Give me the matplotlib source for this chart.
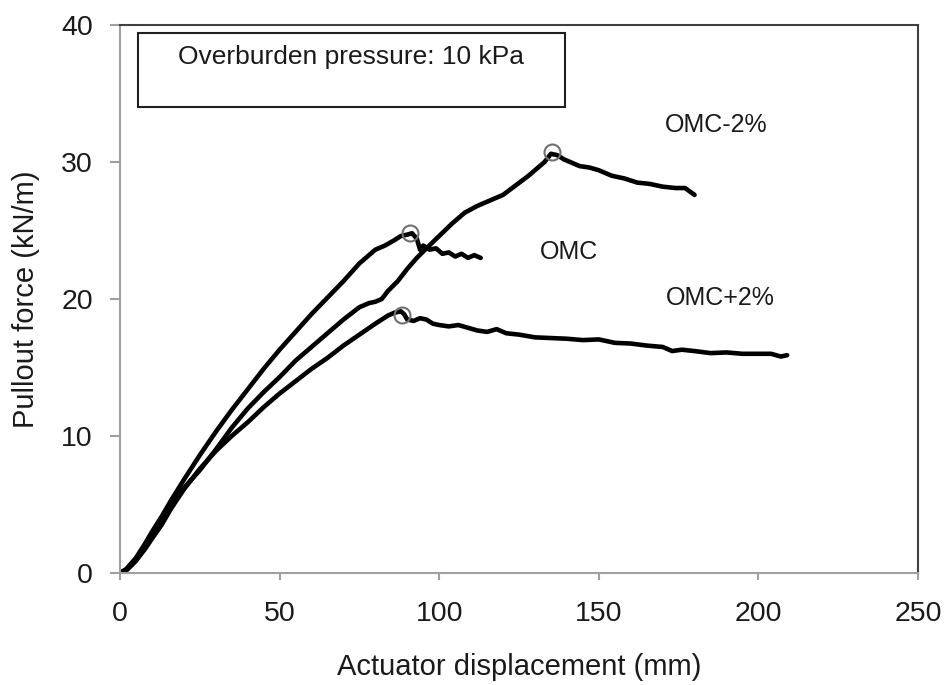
import matplotlib
matplotlib.use("Agg")
import matplotlib.pyplot as plt
from matplotlib.patches import Rectangle

plt.rcParams['font.family'] = ['Liberation Sans', 'DejaVu Sans']

# OMC curve (early peak, short)
omc_x = [0, 2, 5, 8, 10, 13, 16, 20, 25, 30, 35, 40, 45, 50, 55, 60, 65, 70, 75, 78, 80,
         83, 86, 88, 90, 91.5, 93, 94, 95, 97, 99, 101, 103, 105, 107, 109, 111, 113]
omc_y = [0, 0.3, 1.1, 2.2, 3.0, 4.1, 5.3, 6.8, 8.6, 10.3, 11.9, 13.4, 14.9, 16.3, 17.6, 18.9,
         20.1, 21.3, 22.6, 23.2, 23.6, 23.9, 24.3, 24.6, 24.7, 24.8, 24.4, 23.6, 23.9, 23.6,
         23.7, 23.3, 23.4, 23.1, 23.3, 23.0, 23.2, 23.0]

# OMC-2% curve
dry_x = [0, 2, 5, 8, 10, 13, 16, 20, 25, 30, 35, 40, 45, 50, 55, 60, 65, 70, 75, 78, 80, 82,
         84, 87, 90, 93, 96, 100, 104, 108, 112, 116, 120, 124, 128, 131, 133, 135, 137, 139,
         141, 144, 147, 150, 154, 158, 162, 166, 170, 174, 177, 180]
dry_y = [0, 0.2, 0.9, 1.9, 2.6, 3.7, 4.9, 6.2, 7.5, 9.0, 10.6, 12.0, 13.2, 14.3, 15.5, 16.5,
         17.5, 18.5, 19.4, 19.7, 19.8, 20.0, 20.6, 21.3, 22.2, 23.0, 23.7, 24.6, 25.5, 26.3,
         26.8, 27.2, 27.6, 28.3, 29.0, 29.6, 30.0, 30.6, 30.5, 30.2, 30.0, 29.7, 29.6, 29.4,
         29.0, 28.8, 28.5, 28.4, 28.2, 28.1, 28.1, 27.6]

# OMC+2% curve
wet_x = [0, 2, 5, 8, 10, 13, 16, 20, 25, 30, 35, 40, 45, 50, 55, 60, 65, 70, 75, 80, 84, 86,
         88, 89, 90, 92, 94, 96, 98, 100, 103, 106, 109, 112, 115, 118, 121, 125, 130, 135,
         140, 145, 150, 155, 160, 165, 170, 173, 176, 180, 185, 190, 195, 200, 204, 207, 209]
wet_y = [0, 0.2, 0.9, 1.8, 2.5, 3.5, 4.7, 6.1, 7.6, 8.9, 10.0, 11.0, 12.1, 13.1, 14.0, 14.9,
         15.7, 16.6, 17.4, 18.2, 18.8, 19.0, 19.1, 18.9, 18.5, 18.4, 18.6, 18.5, 18.2, 18.1,
         18.0, 18.1, 17.9, 17.7, 17.6, 17.8, 17.5, 17.4, 17.2, 17.15, 17.1, 17.0, 17.05, 16.8,
         16.75, 16.6, 16.5, 16.2, 16.3, 16.2, 16.05, 16.1, 16.0, 16.0, 16.0, 15.8, 15.9]

# peak markers
peak_x = [91, 135.3, 88.3]
peak_y = [24.8, 30.7, 18.8]

labels = ['OMC-2%', 'OMC', 'OMC+2%']
label_x = [186.7, 140.7, 188]
label_y = [32.7, 23.4, 20.1]

fig = plt.figure(figsize=(9.47, 6.85), dpi=100)
ax = fig.add_axes([0.1267, 0.1635, 0.8427, 0.8])

for xs, ys in [(omc_x, omc_y), (dry_x, dry_y), (wet_x, wet_y)]:
    ax.plot(xs, ys, color='black', lw=3.3, solid_capstyle='round', solid_joinstyle='round')

ax.plot(peak_x, peak_y, 'o', ms=11.5, mfc='none', mec='#707070', mew=1.5)

for t, x, y in zip(labels, label_x, label_y):
    ax.text(x, y, t, ha='center', va='center', fontsize=18, color='#1a1a1a')

ax.add_patch(Rectangle((0.0226, 0.850), 0.535, 0.135, transform=ax.transAxes,
                       fill=False, ec='#202020', lw=1.5))
ax.text(0.073, 0.942, 'Overburden pressure: 10 kPa', transform=ax.transAxes,
        ha='left', va='center', fontsize=19, color='#1a1a1a')

ax.set_xlim(0, 250)
ax.set_ylim(0, 40)
ax.set_xticks([0, 50, 100, 150, 200, 250])
ax.set_yticks([0, 10, 20, 30, 40])
ax.set_xlabel('Actuator displacement (mm)', fontsize=21, color='#1a1a1a')
ax.set_ylabel('Pullout force (kN/m)', fontsize=21, color='#1a1a1a')
ax.xaxis.set_label_coords(0.5, -0.146)
ax.yaxis.set_label_coords(-0.100, 0.5)
ax.tick_params(labelsize=20.5, labelcolor='#1a1a1a', color='#a0a0a0', width=1.5,
               direction='out')
ax.tick_params(axis='x', length=5, pad=15)
ax.tick_params(axis='y', length=7.5, pad=12)

for s in ['left', 'bottom']:
    ax.spines[s].set_color('#a0a0a0')
    ax.spines[s].set_linewidth(1.5)
for s in ['top', 'right']:
    ax.spines[s].set_color('#404040')
    ax.spines[s].set_linewidth(1.5)

fig.savefig('out.png', dpi=100)
